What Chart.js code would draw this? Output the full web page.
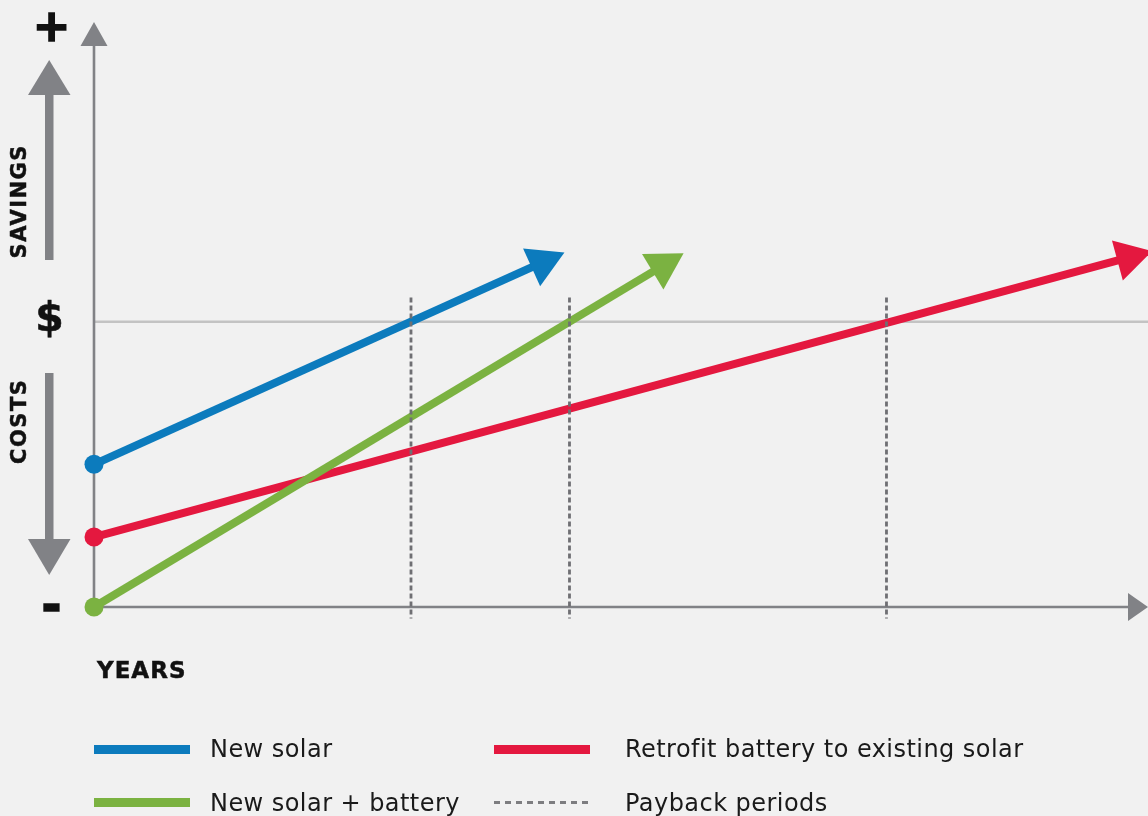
<!DOCTYPE html>
<html lang="en">
<head>
<meta charset="UTF-8">
<title>Solar payback periods</title>
<script src="https://cdn.jsdelivr.net/npm/chart.js"></script>
<style>
  body { margin: 0; background: #f1f1f1; }
  #wrap { position: relative; width: 1148px; height: 816px; overflow: hidden; background: #f1f1f1;
          font-family: "DejaVu Sans", sans-serif; color: #111; }
  #chart { position: absolute; left: 0; top: 0; }
  .lbl { position: absolute; line-height: 1; white-space: nowrap; }
  .big { font-weight: bold; transform: translate(-50%, -50%); -webkit-text-stroke: 1.6px #111; }
  .side { font-weight: bold; font-size: 21px; letter-spacing: 1.5px; padding-left: 1.5px;
          -webkit-text-stroke: 0.5px #111; transform: translate(-50%, -50%) rotate(-90deg); }
  .key { position: absolute; width: 96px; height: 9px; }
  .keytxt { position: absolute; font-size: 24px; line-height: 1; letter-spacing: 0.45px; white-space: nowrap; color: #1a1a1a; }
</style>
</head>
<body>
<div id="wrap">
  <canvas id="chart" width="1148" height="816"></canvas>

  <!-- side labels -->
  <div class="lbl big" style="left:51.5px; top:24.5px; font-size:45px;">+</div>
  <div class="lbl big" style="left:49.5px; top:317px; font-size:41px; -webkit-text-stroke:0.6px #111;">$</div>
  <div class="lbl big" style="left:51.5px; top:604px; font-size:48px;">-</div>
  <div class="lbl side" style="left:18.5px; top:201.5px;">SAVINGS</div>
  <div class="lbl side" style="left:18.5px; top:421.5px;">COSTS</div>
  <div class="lbl" style="left:97px; top:658.5px; font-size:23px; font-weight:bold; letter-spacing:1px; -webkit-text-stroke:0.5px #111;">YEARS</div>

  <!-- legend -->
  <div class="key" style="left:94px; top:745px; background:#0c7bbd;"></div>
  <div class="keytxt" style="left:210px; top:737px;">New solar</div>
  <div class="key" style="left:494px; top:745px; background:#e4183f;"></div>
  <div class="keytxt" style="left:625px; top:737px;">Retrofit battery to existing solar</div>
  <div class="key" style="left:94px; top:798px; background:#7bb241;"></div>
  <div class="keytxt" style="left:210px; top:791px;">New solar + battery</div>
  <div class="key" style="left:494px; top:800.5px; height:3px;
       background:repeating-linear-gradient(to right, #7d7d80 0 6px, transparent 6px 11px);"></div>
  <div class="keytxt" style="left:625px; top:791px;">Payback periods</div>
</div>

<script>
// data (years on x, cost / savings on y, 0 = break-even)
const seriesNames = ['New solar', 'New solar + battery', 'Retrofit battery to existing solar'];
const newSolarYears = [0, 5.66];
const newSolarValues = [-10, 4.15];
const solarBatteryYears = [0, 7.18];
const solarBatteryValues = [-20, 3.93];
const retrofitYears = [0, 13.06];
const retrofitValues = [-15.1, 4.5];
const paybackYears = [4, 6, 10];

// look
const colors = ['#0c7bbd', '#7bb241', '#e4183f'];
const axisGrey = '#818286';
const dashTop = 1.7, dashBottom = -20.8;

function pts(xs, ys) {
    return xs.map((v, i) => ({ x: v, y: ys[i] }));
}

function tri(ctx, p) {
    ctx.beginPath();
    ctx.moveTo(p[0][0], p[0][1]);
    ctx.lineTo(p[1][0], p[1][1]);
    ctx.lineTo(p[2][0], p[2][1]);
    ctx.closePath();
    ctx.fill();
}

const seriesData = [
    pts(newSolarYears, newSolarValues),
    pts(solarBatteryYears, solarBatteryValues),
    pts(retrofitYears, retrofitValues)
];

// dashed payback markers go first so they sit on top
const datasets = paybackYears.map(yr => ({
    label: 'Payback periods',
    data: [{ x: yr, y: dashTop }, { x: yr, y: dashBottom }],
    borderColor: '#6f6f73',
    borderWidth: 2.8,
    borderDash: [5, 3],
    pointRadius: 0,
    clip: false
}));

seriesData.forEach((d, i) => {
    datasets.push({
        label: seriesNames[i],
        data: d,
        borderColor: colors[i],
        borderWidth: 8,
        borderCapStyle: 'butt',
        pointRadius: [9.5, 0],
        pointHoverRadius: 0,
        pointBorderWidth: 0,
        pointBackgroundColor: colors[i],
        arrow: true,
        clip: false
    });
});

const decor = {
    id: 'decor',
    beforeDatasetsDraw(chart) {
        const { ctx, chartArea: a, scales: { x, y } } = chart;
        const x0 = x.getPixelForValue(0);
        const y0 = y.getPixelForValue(0);
        const yb = y.getPixelForValue(y.min);
        ctx.save();
        // break-even line
        ctx.strokeStyle = '#c3c3c3';
        ctx.lineWidth = 2.5;
        ctx.beginPath();
        ctx.moveTo(x0, y0);
        ctx.lineTo(a.right, y0);
        ctx.stroke();
        // axes with arrow heads
        ctx.strokeStyle = axisGrey;
        ctx.lineWidth = 2.6;
        ctx.beginPath();
        ctx.moveTo(x0, yb + 1.3);
        ctx.lineTo(x0, a.top + 20);
        ctx.moveTo(x0 - 1.3, yb);
        ctx.lineTo(a.right - 16, yb);
        ctx.stroke();
        ctx.fillStyle = axisGrey;
        tri(ctx, [[x0, a.top], [x0 - 13.5, a.top + 24], [x0 + 13.5, a.top + 24]]);
        tri(ctx, [[a.right, yb], [a.right - 20, yb - 14], [a.right - 20, yb + 14]]);
        ctx.restore();
    },
    afterDatasetsDraw(chart) {
        const ctx = chart.ctx;
        const r = 24;
        ctx.save();
        chart.data.datasets.forEach((ds, i) => {
            if (!ds.arrow) return;
            const els = chart.getDatasetMeta(i).data;
            const p0 = els[els.length - 2], p1 = els[els.length - 1];
            let dx = p1.x - p0.x, dy = p1.y - p0.y;
            const len = Math.hypot(dx, dy);
            dx /= len; dy /= len;
            const h = r * Math.sqrt(3) / 2;
            ctx.fillStyle = ds.borderColor;
            tri(ctx, [
                [p1.x + dx * r, p1.y + dy * r],
                [p1.x - dx * r / 2 - dy * h, p1.y - dy * r / 2 + dx * h],
                [p1.x - dx * r / 2 + dy * h, p1.y - dy * r / 2 - dx * h]
            ]);
        });
        ctx.restore();
    },
    afterDraw(chart) {
        // savings / costs direction arrows on the left
        const ctx = chart.ctx;
        ctx.save();
        ctx.fillStyle = axisGrey;
        ctx.fillRect(45, 95, 8.5, 165);
        tri(ctx, [[49.2, 60], [28, 95], [70.5, 95]]);
        ctx.fillRect(45, 373, 8.5, 167);
        tri(ctx, [[28, 539], [70.5, 539], [49.2, 575]]);
        ctx.restore();
    }
};

new Chart(document.getElementById('chart'), {
    type: 'scatter',
    data: { datasets: datasets },
    options: {
        responsive: false,
        animation: false,
        showLine: true,
        layout: { autoPadding: false, padding: { left: 94, right: 0, top: 22, bottom: 209 } },
        elements: { line: { tension: 0 } },
        scales: {
            x: { type: 'linear', min: 0, max: 13.3, display: false },
            y: { type: 'linear', min: -20, max: 21, display: false }
        },
        plugins: {
            legend: { display: false },
            tooltip: { enabled: false }
        }
    },
    plugins: [decor]
});
</script>
</body>
</html>
